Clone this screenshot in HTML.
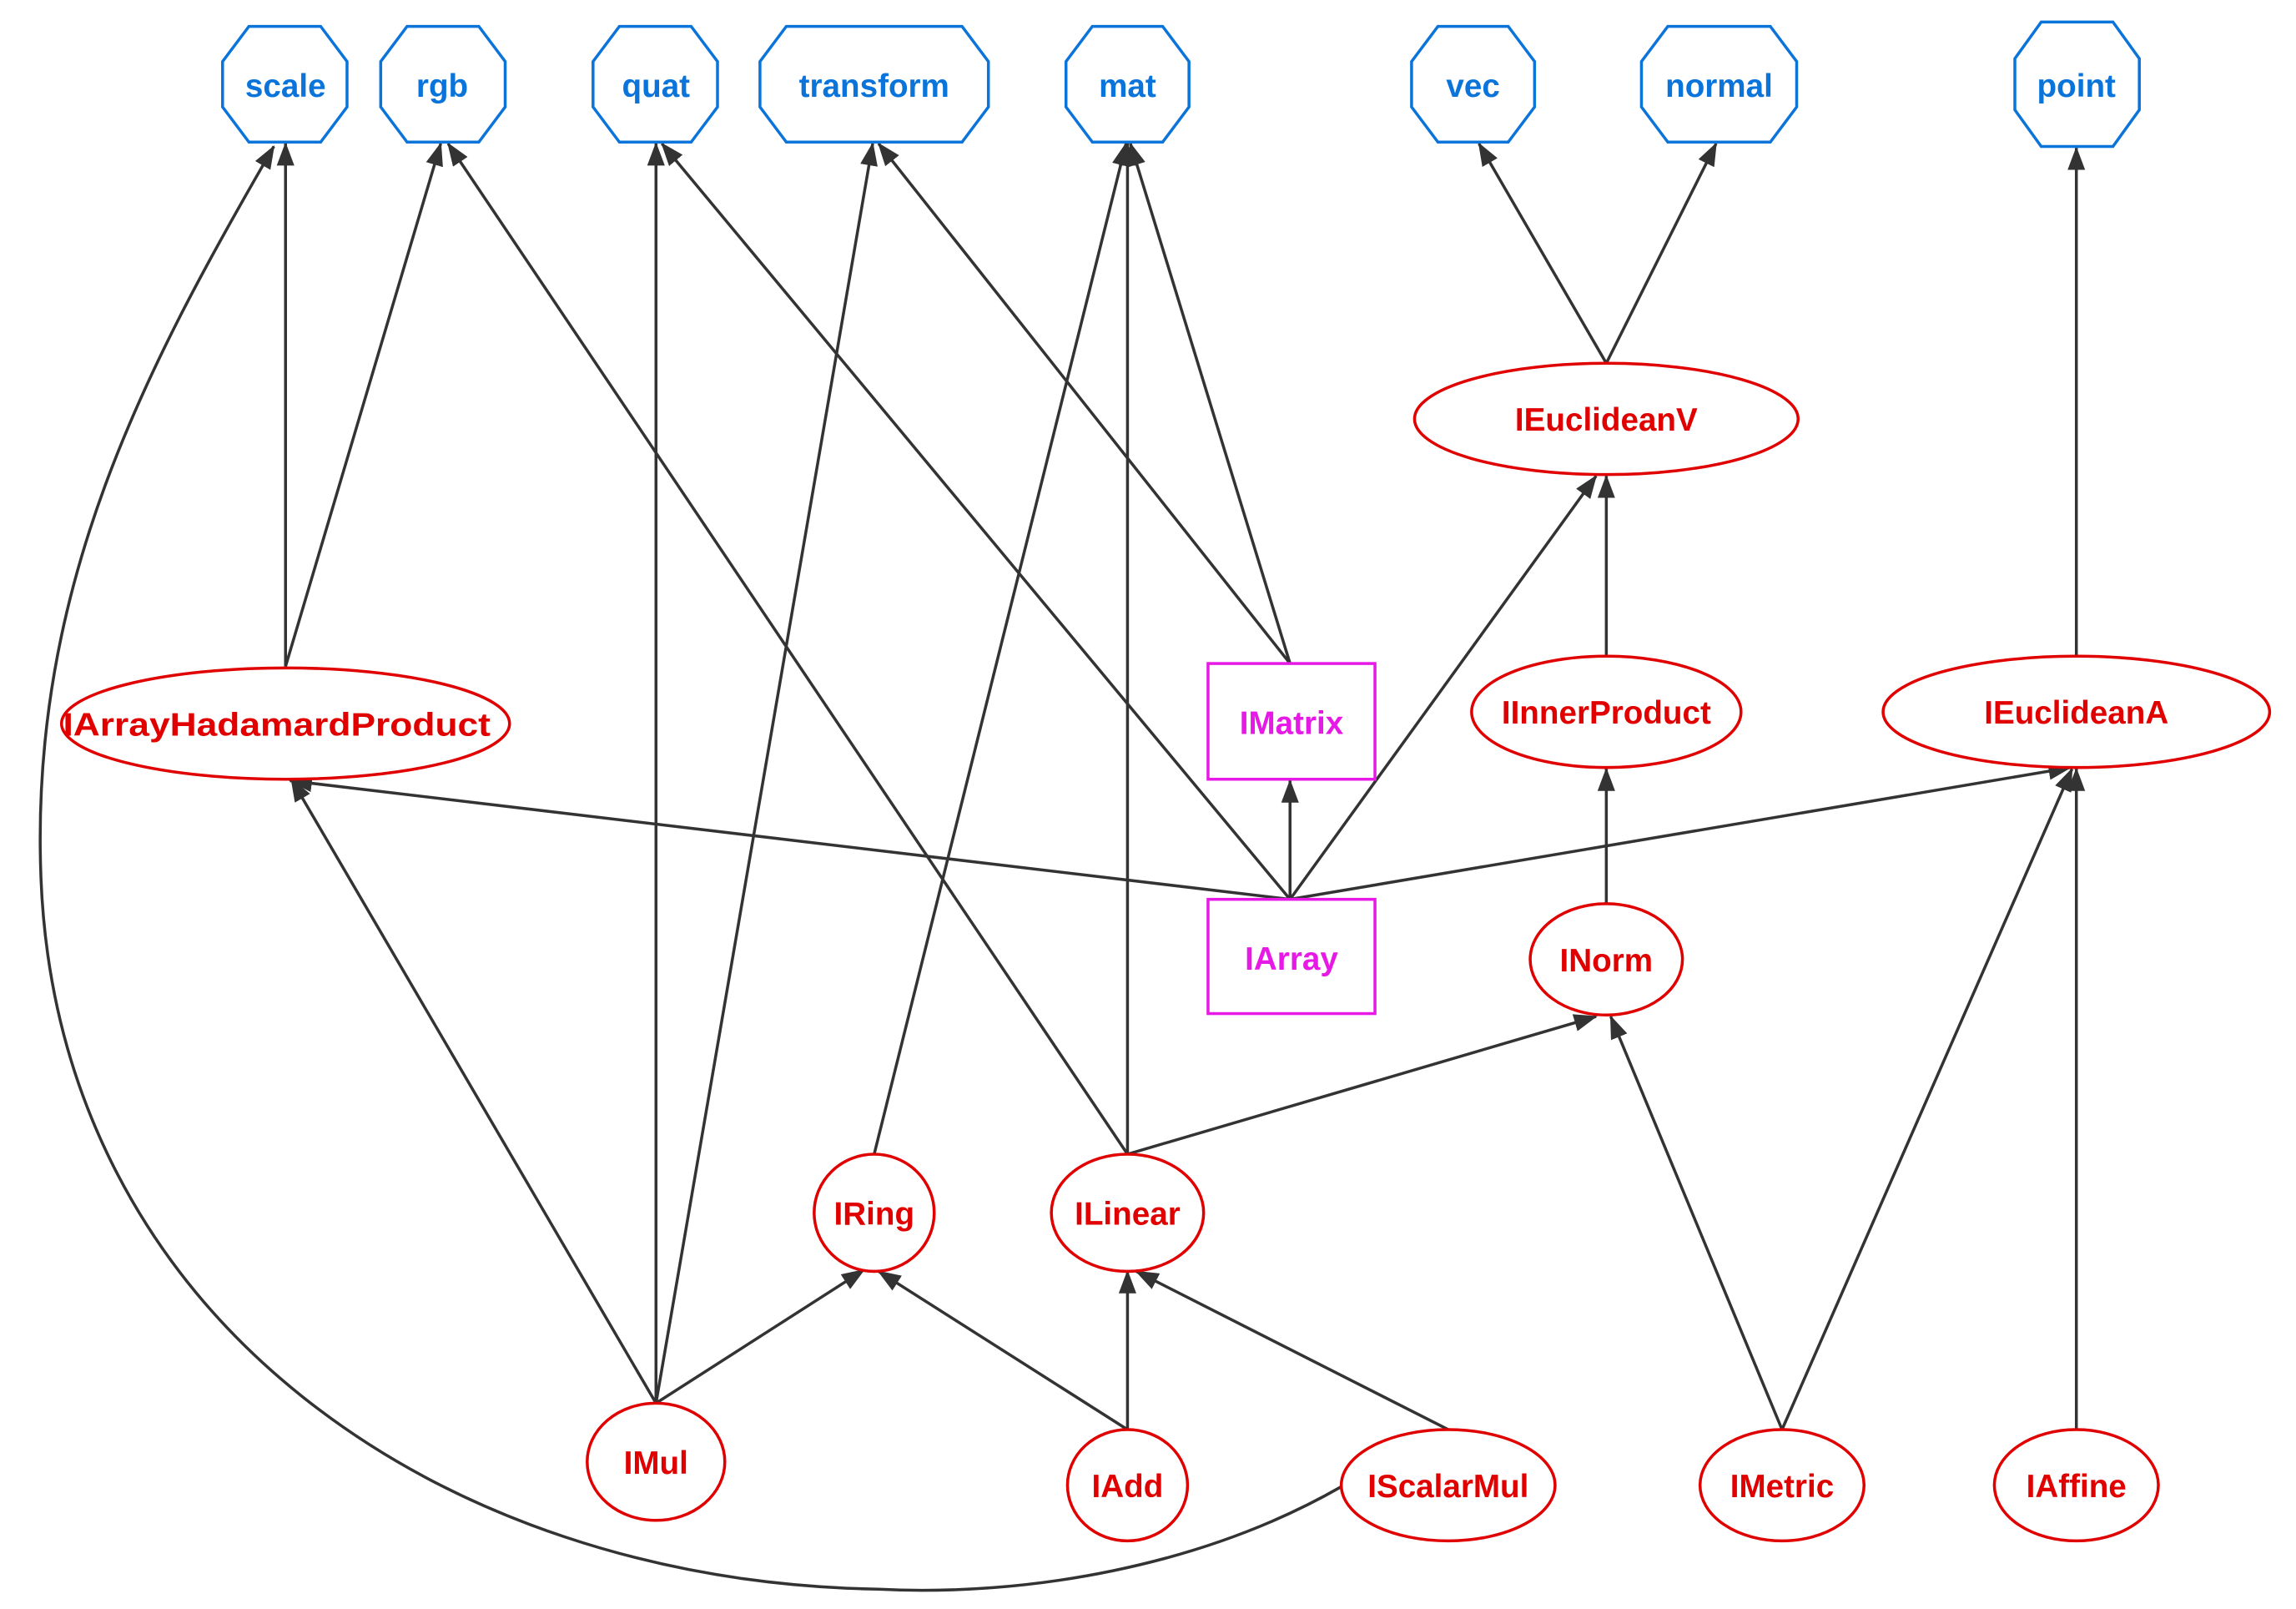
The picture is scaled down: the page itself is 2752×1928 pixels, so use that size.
<!DOCTYPE html>
<html><head><meta charset="utf-8"><style>
html,body{margin:0;padding:0;background:#fff;}
svg{display:block;}
text{font-family:"Liberation Sans",sans-serif;font-weight:bold;font-size:22px;text-anchor:middle;dominant-baseline:central;}
.b{fill:#0a74da}.r{fill:#e00000}.m{fill:#e619e6}
</style></head><body>
<svg width="2752" height="1928" viewBox="0 0 1568 1098.5" xmlns="http://www.w3.org/2000/svg">
<defs><marker id="a" markerUnits="userSpaceOnUse" markerWidth="16" markerHeight="12" refX="15" refY="6" orient="auto"><path d="M0,0 L16,6 L0,12 z" fill="#333"/></marker></defs>
<g fill="none" stroke="#333" stroke-width="2" marker-end="url(#a)">
<line x1="195" y1="455" x2="195" y2="98"/>
<line x1="195" y1="455" x2="301" y2="98"/>
<path d="M916 1015 C820 1070 700 1090 600 1085 C300 1080 40 900 28 600 C20 400 100 250 187 100"/>
<line x1="448" y1="958" x2="448" y2="98"/>
<line x1="448" y1="958" x2="596" y2="98"/>
<line x1="448" y1="958" x2="199" y2="532"/>
<line x1="448" y1="958" x2="590" y2="867"/>
<line x1="597" y1="788" x2="769" y2="98"/>
<line x1="770" y1="788" x2="770" y2="98"/>
<line x1="770" y1="788" x2="306" y2="98"/>
<line x1="770" y1="788" x2="1090" y2="694"/>
<line x1="881" y1="614" x2="452" y2="98"/>
<line x1="881" y1="614" x2="881" y2="533"/>
<line x1="881" y1="614" x2="1090" y2="325"/>
<line x1="881" y1="614" x2="198" y2="533"/>
<line x1="881" y1="614" x2="1414" y2="524"/>
<line x1="881" y1="453" x2="600" y2="98"/>
<line x1="881" y1="453" x2="772" y2="98"/>
<line x1="1097" y1="248" x2="1010" y2="98"/>
<line x1="1097" y1="248" x2="1172" y2="98"/>
<line x1="1097" y1="448" x2="1097" y2="325"/>
<line x1="1097" y1="617" x2="1097" y2="525"/>
<line x1="1418" y1="448" x2="1418" y2="101"/>
<line x1="1217" y1="976" x2="1100" y2="694"/>
<line x1="1217" y1="976" x2="1415" y2="525"/>
<line x1="1418" y1="976" x2="1418" y2="525"/>
<line x1="770" y1="976" x2="770" y2="868"/>
<line x1="770" y1="976" x2="600" y2="868"/>
<line x1="989" y1="976" x2="776" y2="868"/>
</g>
<g fill="#fff" stroke="#0a74da" stroke-width="2">
<polygon points="170,18 219,18 237,42 237,73 219,97 170,97 152,73 152,42"/>
<polygon points="278,18 327,18 345,42 345,73 327,97 278,97 260,73 260,42"/>
<polygon points="423,18 472,18 490,42 490,73 472,97 423,97 405,73 405,42"/>
<polygon points="537,18 657,18 675,42 675,73 657,97 537,97 519,73 519,42"/>
<polygon points="746,18 794,18 812,42 812,73 794,97 746,97 728,73 728,42"/>
<polygon points="982,18 1030,18 1048,42 1048,73 1030,97 982,97 964,73 964,42"/>
<polygon points="1139,18 1209,18 1227,42 1227,73 1209,97 1139,97 1121,73 1121,42"/>
<polygon points="1394,15 1443,15 1461,40 1461,75 1443,100 1394,100 1376,75 1376,40"/>
</g>
<g fill="#fff" stroke="#e00000" stroke-width="2">
<ellipse cx="1097" cy="286" rx="131" ry="38"/>
<ellipse cx="195" cy="494" rx="153" ry="38"/>
<ellipse cx="1097" cy="486" rx="92" ry="38"/>
<ellipse cx="1418" cy="486" rx="132" ry="38"/>
<ellipse cx="1097" cy="655" rx="52" ry="38"/>
<ellipse cx="597" cy="828" rx="41" ry="40"/>
<ellipse cx="770" cy="828" rx="52" ry="40"/>
<ellipse cx="448" cy="998" rx="47" ry="40"/>
<ellipse cx="770" cy="1014" rx="41" ry="38"/>
<ellipse cx="989" cy="1014" rx="73" ry="38"/>
<ellipse cx="1217" cy="1014" rx="56" ry="38"/>
<ellipse cx="1418" cy="1014" rx="56" ry="38"/>
</g>
<g fill="#fff" stroke="#e619e6" stroke-width="2">
<rect x="825" y="453" width="114" height="79"/>
<rect x="825" y="614" width="114" height="78"/>
</g>
<text class="b" x="195" y="59">scale</text>
<text class="b" x="302" y="59">rgb</text>
<text class="b" x="448" y="59">quat</text>
<text class="b" x="597" y="59">transform</text>
<text class="b" x="770" y="59">mat</text>
<text class="b" x="1006" y="59">vec</text>
<text class="b" x="1174" y="59">normal</text>
<text class="b" x="1418" y="59">point</text>
<text class="r" x="1097" y="287">IEuclideanV</text>
<text class="r" x="189" y="495" textLength="292" lengthAdjust="spacingAndGlyphs">IArrayHadamardProduct</text>
<text class="r" x="1097" y="487">IInnerProduct</text>
<text class="r" x="1418" y="487">IEuclideanA</text>
<text class="r" x="1097" y="656">INorm</text>
<text class="r" x="597" y="829">IRing</text>
<text class="r" x="770" y="829">ILinear</text>
<text class="r" x="448" y="999">IMul</text>
<text class="r" x="770" y="1015">IAdd</text>
<text class="r" x="989" y="1015">IScalarMul</text>
<text class="r" x="1217" y="1015">IMetric</text>
<text class="r" x="1418" y="1015">IAffine</text>
<text class="m" x="882" y="494">IMatrix</text>
<text class="m" x="882" y="655">IArray</text>
</svg>
</body></html>
